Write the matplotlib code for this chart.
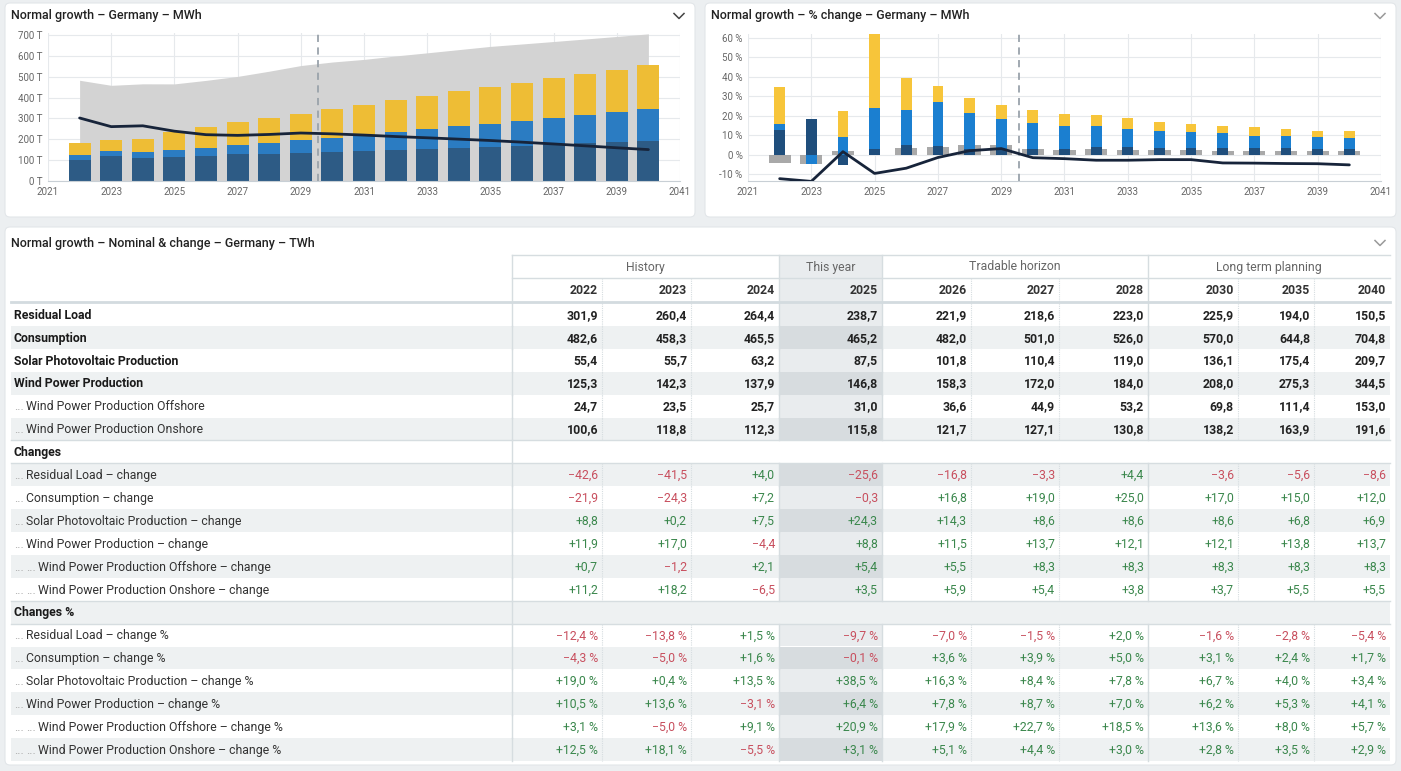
import numpy as np
import matplotlib.pyplot as plt
from matplotlib.patches import FancyBboxPatch, Rectangle

plt.rcParams['font.family'] = ['Roboto', 'DejaVu Sans']

W, H = 1401, 771

# --- chart data (TWh / %), 2022-2040 ---
years = list(range(2022, 2041))
consumption = [482.6, 458.3, 465.5, 465.2, 482.0, 501.0, 526.0, 553.0, 570.0, 582.5,
               599.0, 614.0, 629.4, 644.8, 656.4, 668.2, 680.2, 692.4, 704.8]
residual = [301.9, 260.4, 264.4, 238.7, 221.9, 218.6, 223.0, 229.9, 225.9, 220.0,
            213.0, 207.0, 200.5, 194.0, 186.0, 177.5, 168.5, 159.1, 150.5]
solar = [55.4, 55.7, 63.2, 87.5, 101.8, 110.4, 119.0, 127.2, 136.1, 144.5,
         152.9, 161.3, 168.4, 175.4, 182.1, 189.7, 196.5, 203.0, 209.7]
offshore = [24.7, 23.5, 25.7, 31.0, 36.6, 44.9, 53.2, 61.4, 69.8, 78.0,
            86.3, 94.5, 102.7, 111.4, 119.6, 127.4, 135.3, 143.6, 153.0]
onshore = [100.6, 118.8, 112.3, 115.8, 121.7, 127.1, 130.8, 134.7, 138.2, 142.1,
           147.5, 153.1, 158.5, 163.9, 169.6, 175.2, 181.0, 186.4, 191.6]

residual_pct = [-12.4, -13.8, 1.5, -9.7, -7.0, -1.5, 2.0, 3.1, -1.6, -2.1,
                -2.9, -2.9, -2.6, -2.6, -4.3, -4.4, -4.6, -4.7, -5.3]
consumption_pct = [-4.3, -5.0, 1.6, -0.1, 3.6, 3.9, 5.0, 5.1, 3.1, 2.2,
                   2.8, 2.5, 2.5, 2.4, 1.8, 1.8, 1.8, 1.8, 1.7]
solar_pct = [19.0, 0.4, 13.5, 38.5, 16.3, 8.4, 7.8, 6.9, 6.7, 6.2,
             5.8, 5.5, 4.4, 4.0, 3.8, 4.2, 3.6, 3.3, 3.4]
offshore_pct = [3.1, -5.0, 9.1, 20.9, 17.9, 22.7, 18.5, 15.4, 13.6, 11.7,
                10.7, 9.5, 8.7, 8.0, 7.4, 6.5, 6.2, 6.1, 5.7]
onshore_pct = [12.5, 18.1, -5.5, 3.1, 5.1, 4.4, 3.0, 3.0, 2.8, 2.8,
               3.8, 3.8, 3.5, 3.5, 3.5, 3.3, 3.3, 3.0, 2.9]

# --- table data ---
t_years = ['2022', '2023', '2024', '2025', '2026', '2027', '2028', '2030', '2035', '2040']
groups = [('History', 0, 3), ('This year', 3, 4), ('Tradable horizon', 4, 7), ('Long term planning', 7, 10)]

t_res = [301.9, 260.4, 264.4, 238.7, 221.9, 218.6, 223.0, 225.9, 194.0, 150.5]
t_cons = [482.6, 458.3, 465.5, 465.2, 482.0, 501.0, 526.0, 570.0, 644.8, 704.8]
t_solar = [55.4, 55.7, 63.2, 87.5, 101.8, 110.4, 119.0, 136.1, 175.4, 209.7]
t_wind = [125.3, 142.3, 137.9, 146.8, 158.3, 172.0, 184.0, 208.0, 275.3, 344.5]
t_off = [24.7, 23.5, 25.7, 31.0, 36.6, 44.9, 53.2, 69.8, 111.4, 153.0]
t_on = [100.6, 118.8, 112.3, 115.8, 121.7, 127.1, 130.8, 138.2, 163.9, 191.6]

c_res = [-42.6, -41.5, 4.0, -25.6, -16.8, -3.3, 4.4, -3.6, -5.6, -8.6]
c_cons = [-21.9, -24.3, 7.2, -0.3, 16.8, 19.0, 25.0, 17.0, 15.0, 12.0]
c_solar = [8.8, 0.2, 7.5, 24.3, 14.3, 8.6, 8.6, 8.6, 6.8, 6.9]
c_wind = [11.9, 17.0, -4.4, 8.8, 11.5, 13.7, 12.1, 12.1, 13.8, 13.7]
c_off = [0.7, -1.2, 2.1, 5.4, 5.5, 8.3, 8.3, 8.3, 8.3, 8.3]
c_on = [11.2, 18.2, -6.5, 3.5, 5.9, 5.4, 3.8, 3.7, 5.5, 5.5]

p_res = [-12.4, -13.8, 1.5, -9.7, -7.0, -1.5, 2.0, -1.6, -2.8, -5.4]
p_cons = [-4.3, -5.0, 1.6, -0.1, 3.6, 3.9, 5.0, 3.1, 2.4, 1.7]
p_solar = [19.0, 0.4, 13.5, 38.5, 16.3, 8.4, 7.8, 6.7, 4.0, 3.4]
p_wind = [10.5, 13.6, -3.1, 6.4, 7.8, 8.7, 7.0, 6.2, 5.3, 4.1]
p_off = [3.1, -5.0, 9.1, 20.9, 17.9, 22.7, 18.5, 13.6, 8.0, 5.7]
p_on = [12.5, 18.1, -5.5, 3.1, 5.1, 4.4, 3.0, 2.8, 3.5, 2.9]

rows = [
    ('Residual Load', 0, t_res, 'nomb'),
    ('Consumption', 0, t_cons, 'nomb'),
    ('Solar Photovoltaic Production', 0, t_solar, 'nomb'),
    ('Wind Power Production', 0, t_wind, 'nomb'),
    ('Wind Power Production Offshore', 1, t_off, 'nom'),
    ('Wind Power Production Onshore', 1, t_on, 'nom'),
    ('Changes', 0, None, 'section'),
    ('Residual Load – change', 1, c_res, 'chg'),
    ('Consumption – change', 1, c_cons, 'chg'),
    ('Solar Photovoltaic Production – change', 1, c_solar, 'chg'),
    ('Wind Power Production – change', 1, c_wind, 'chg'),
    ('Wind Power Production Offshore – change', 2, c_off, 'chg'),
    ('Wind Power Production Onshore – change', 2, c_on, 'chg'),
    ('Changes %', 0, None, 'section'),
    ('Residual Load – change %', 1, p_res, 'pct'),
    ('Consumption – change %', 1, p_cons, 'pct'),
    ('Solar Photovoltaic Production – change %', 1, p_solar, 'pct'),
    ('Wind Power Production – change %', 1, p_wind, 'pct'),
    ('Wind Power Production Offshore – change %', 2, p_off, 'pct'),
    ('Wind Power Production Onshore – change %', 2, p_on, 'pct'),
]

fig = plt.figure(figsize=(W / 100, H / 100), dpi=100)
fig.patch.set_facecolor('#eceff1')

bg = fig.add_axes([0, 0, 1, 1])
bg.set_xlim(0, W)
bg.set_ylim(H, 0)
bg.axis('off')
bg.set_zorder(0)

# cards
for (x0, y0, x1, y1) in [(5, 3, 695, 217), (705, 3, 1396, 217), (5, 227, 1396, 765)]:
    bg.add_patch(FancyBboxPatch((x0, y0), x1 - x0, y1 - y0,
                                boxstyle='round,pad=0,rounding_size=5',
                                fc='white', ec='#e2e6e9', lw=0.8))

bg.text(11, 16, 'Normal growth – Germany – MWh', fontsize=9, weight='medium', color='#222', va='center')
bg.text(711, 16, 'Normal growth – % change – Germany – MWh', fontsize=9, weight='medium', color='#222', va='center')
bg.text(11, 243, 'Normal growth – Nominal & change – Germany – TWh', fontsize=9, weight='medium', color='#222', va='center')

# chevrons
for cx, cy, c in [(679, 16, '#444444'), (1380, 16, '#9a9a9a'), (1380, 243, '#9a9a9a')]:
    bg.plot([cx - 5, cx, cx + 5], [cy - 2.5, cy + 2.5, cy - 2.5], color=c, lw=1.1)


def px_axes(l, t, r, b):
    ax = fig.add_axes([l / W, 1 - b / H, (r - l) / W, (b - t) / H])
    ax.set_zorder(1)
    return ax


def style(ax):
    ax.set_xlim(2021, 2041)
    ax.set_xticks(range(2021, 2042, 2))
    ax.grid(color='#e6e9ec', lw=0.8)
    ax.set_axisbelow(True)
    for s in ['top', 'right', 'left']:
        ax.spines[s].set_visible(False)
    ax.spines['bottom'].set_color('#c8cfd5')
    ax.tick_params(length=0, labelsize=7, colors='#666666', pad=4)


y = np.array(years)

# left chart
ax1 = px_axes(48, 33, 680, 181)
style(ax1)
ax1.set_ylim(0, 709)
ax1.set_yticks(range(0, 701, 100))
ax1.set_yticklabels([f'{v} T' for v in range(0, 701, 100)])
ax1.fill_between(y, consumption, color='#d3d3d3', lw=0, zorder=1)
ax1.bar(y, onshore, 0.7, color='#2d5b85', zorder=2)
ax1.bar(y, offshore, 0.7, bottom=onshore, color='#2b7cc2', zorder=2)
ax1.bar(y, solar, 0.7, bottom=np.add(onshore, offshore), color='#eebd35', zorder=2)
ax1.plot(y, residual, color='#17243a', lw=2, zorder=4, solid_capstyle='round')
ax1.axvline(2029.55, color='#9aa3ab', ls=(0, (4, 3)), lw=1.3, zorder=3)

# right chart
ax2 = px_axes(748, 34, 1381, 181)
style(ax2)
ax2.set_ylim(-13.6, 62.1)
ax2.set_yticks(range(-10, 61, 10))
ax2.set_yticklabels([f'{v} %' for v in range(-10, 61, 10)])
ax2.bar(y, consumption_pct, 0.7, color='#9a9a9a', alpha=0.85, zorder=2)
pos = np.zeros(len(y))
neg = np.zeros(len(y))
for vals, c in [(onshore_pct, '#1f4e7c'), (offshore_pct, '#1b7fd0'), (solar_pct, '#f7c53a')]:
    v = np.array(vals)
    ax2.bar(y, v, 0.34, bottom=np.where(v >= 0, pos, neg), color=c, zorder=3)
    pos += np.where(v >= 0, v, 0)
    neg += np.where(v < 0, v, 0)
ax2.plot(y, residual_pct, color='#17243a', lw=2, zorder=5, solid_capstyle='round')
ax2.axvline(2029.55, color='#9aa3ab', ls=(0, (4, 3)), lw=1.3, zorder=4)

# table
edges = [512, 602, 691, 779, 882, 971, 1059, 1148, 1238, 1314, 1390]
solid = [512, 779, 882, 1148]
dotted = [602, 691, 971, 1059, 1238, 1314]
L, R = 11, 1390
TOP1, TOP2, TOP3 = 255, 278, 302
RH = 22.9
line_c = '#d6dde0'
red, green = '#c84f5e', '#3a874c'


def fmt(v, sign=False, pct=False):
    s = f'{abs(v):.1f}'.replace('.', ',')
    if sign:
        s = ('+' if v >= 0 else '\u2212') + s
    if pct:
        s += ' %'
    return s


# header
bg.add_patch(Rectangle((edges[3], TOP1), edges[4] - edges[3], TOP3 - TOP1, fc='#e9ecee', lw=0))
for gname, a, b in groups:
    bg.text((edges[a] + edges[b]) / 2, (TOP1 + TOP2) / 2 + 0.5, gname, ha='center', va='center',
            fontsize=8.8, color='#666666')
for j, yr in enumerate(t_years):
    bg.text(edges[j + 1] - 4, (TOP2 + TOP3) / 2 + 1, yr, ha='right', va='center',
            fontsize=8.8, weight='bold', color='#333333')
bg.plot([512, R], [TOP1, TOP1], color=line_c, lw=1)
bg.plot([512, R], [TOP2, TOP2], color=line_c, lw=1)
for xe in solid:
    bg.plot([xe, xe], [TOP1, TOP3], color=line_c, lw=1)
for xe in dotted:
    bg.plot([xe, xe], [TOP2, TOP3], color=line_c, lw=0.8, ls=(0, (1, 1)))

for i, (label, level, vals, kind) in enumerate(rows):
    top = TOP3 + 1 + i * RH
    cy = top + RH / 2 + 0.8
    stripe = i % 2 == 1
    base = '#eef1f2' if stripe else 'white'
    bg.add_patch(Rectangle((L, top), R - L, RH, fc=base, lw=0))
    if kind == 'section':
        bg.plot([L, R], [top, top], color=line_c, lw=1)
        bg.plot([L, R], [top + RH, top + RH], color=line_c, lw=1)
        bg.plot([512, 512], [top, top + RH], color=line_c, lw=1)
        bg.text(14, cy, label, fontsize=8.8, weight='bold', color='#1a1a1a', va='center')
        continue
    bg.add_patch(Rectangle((edges[3], top), edges[4] - edges[3], RH,
                           fc='#d7dcdf' if stripe else '#e9ecee', lw=0))
    for xe in solid:
        bg.plot([xe, xe], [top, top + RH], color=line_c, lw=1)
    for xe in dotted:
        bg.plot([xe, xe], [top, top + RH], color=line_c, lw=0.8, ls=(0, (1, 1)))
    if level == 0:
        bg.text(14, cy, label, fontsize=8.8, weight='bold', color='#1a1a1a', va='center')
    else:
        for k in range(level):
            bg.text(14 + 12 * k, cy, '...', fontsize=8.8, color='#aaaaaa', va='center')
        bg.text(14 + 12 * level, cy, label, fontsize=8.8, color='#333333', va='center')
    for j, v in enumerate(vals):
        xr = edges[j + 1] - 4
        if kind in ('nomb', 'nom'):
            bg.text(xr, cy, fmt(v), ha='right', va='center', fontsize=8.8,
                    weight='bold', color='#222222')
        else:
            bg.text(xr, cy, fmt(v, sign=True, pct=(kind == 'pct')), ha='right', va='center',
                    fontsize=8.8, color=red if v < 0 else green)

bg.plot([L, R], [TOP3, TOP3], color='#d3dbdf', lw=2)

fig.savefig('out.png', dpi=100, facecolor=fig.get_facecolor())
